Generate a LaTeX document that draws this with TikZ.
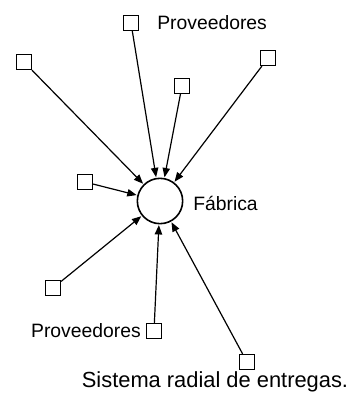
\documentclass[tikz,border=0pt]{standalone}
\usepackage{fontspec}
\setmainfont{Liberation Sans}
\usetikzlibrary{arrows.meta}
\begin{document}
\begin{tikzpicture}[x=0.75pt,y=-0.75pt,
  supp/.style={draw,line width=1.2pt,minimum size=11pt,inner sep=0pt},
  fab/.style={draw,circle,line width=1.2pt,minimum size=34pt,inner sep=0pt},
  lab/.style={font=\fontsize{14.5}{17}\selectfont,inner sep=0pt},
  captext/.style={font=\fontsize{16.4}{19}\selectfont,inner sep=0pt},
  flow/.style={line width=0.9pt,-{Triangle[length=7pt,width=5.5pt]},shorten >=0.5pt}]
\useasboundingbox (0,0) rectangle (351,411);
\node[fab] (f) at (160,201) {};
\node[supp] (s1) at (131,23) {};
\node[supp] (s2) at (24,62) {};
\node[supp] (s3) at (268,58) {};
\node[supp] (s4) at (182,86) {};
\node[supp] (s5) at (85,182) {};
\node[supp] (s6) at (53,288) {};
\node[supp] (s7) at (154,331) {};
\node[supp] (s8) at (247,362) {};
\node[lab,anchor=west] (l1) at (157,23) {Proveedores};
\node[lab,anchor=west] (l2) at (193,203) {Fábrica};
\node[lab,anchor=east] (l3) at (141,331) {Proveedores};
\node[captext] (c) at (215,382) {Sistema radial de entregas.};
\foreach \s in {s1,s2,s3,s4,s5,s6,s7,s8}
  \draw[flow] (\s) -- (f);
\end{tikzpicture}
\end{document}
